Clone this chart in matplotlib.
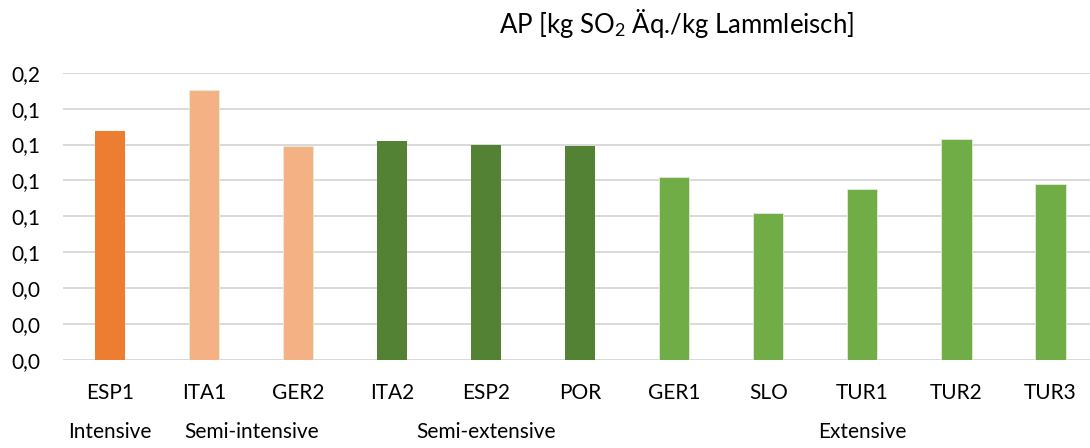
import matplotlib
matplotlib.use("Agg")
import matplotlib.pyplot as plt
from matplotlib.transforms import blended_transform_factory
import numpy as np

plt.rcParams['font.family'] = ['Lato', 'DejaVu Sans']
plt.rcParams['mathtext.fontset'] = 'custom'
plt.rcParams['mathtext.rm'] = 'Lato'
plt.rcParams['mathtext.it'] = 'Lato:italic'

# Acidification potential per farm system
categories = ["ESP1", "ITA1", "GER2", "ITA2", "ESP2", "POR",
              "GER1", "SLO", "TUR1", "TUR2", "TUR3"]
values = [0.1275, 0.1504, 0.1192, 0.1220, 0.1197, 0.1192,
          0.1019, 0.0819, 0.0954, 0.1229, 0.0980]
groups = ["Intensive", "Semi-intensive", "Semi-intensive",
          "Semi-extensive", "Semi-extensive", "Semi-extensive",
          "Extensive", "Extensive", "Extensive", "Extensive", "Extensive"]
group_colors = {
    "Intensive": "#ED7D31",
    "Semi-intensive": "#F4B183",
    "Semi-extensive": "#548235",
    "Extensive": "#70AD47",
}
y_ticks = [0.0, 0.02, 0.04, 0.06, 0.08, 0.10, 0.12, 0.14, 0.16]
y_tick_labels = ["0,0", "0,0", "0,0", "0,1", "0,1", "0,1", "0,1", "0,1", "0,2"]

W, H = 1090, 448
fig = plt.figure(figsize=(W / 100, H / 100), dpi=100)
left_px, right_px = 63, 1090
bottom_px, top_px = 360, 72.7
ax = fig.add_axes([left_px / W, 1 - bottom_px / H,
                   (right_px - left_px) / W, (bottom_px - top_px) / H])

x = np.arange(len(categories))
colors = [group_colors[g] for g in groups]
edge = ["none" if g in ("Intensive", "Semi-extensive") else "#E2EFD9" for g in groups]
ax.bar(x, values, width=0.32, color=colors, edgecolor=edge, linewidth=0.6, zorder=3)

ax.set_ylim(0, 0.16)
ax.set_xlim(-0.5, -0.5 + (right_px - left_px) / 94.05)
ax.set_yticks(y_ticks)
ax.set_yticklabels(y_tick_labels, fontsize=15, color="#000000")
ax.set_xticks(x)
ax.set_xticklabels(categories, fontsize=15, color="#000000")
for lbl in ax.get_xticklabels():
    lbl.set_va("baseline")
ax.tick_params(axis="both", length=0)
ax.tick_params(axis="y", pad=16.5)
ax.tick_params(axis="x", pad=28)
ax.yaxis.grid(True, color="#D9D9D9", linewidth=1.4, zorder=0)
ax.set_axisbelow(True)
for s in ax.spines.values():
    s.set_visible(False)

# group labels below the categories
trans = blended_transform_factory(ax.transData, fig.transFigure)
group_order = ["Intensive", "Semi-intensive", "Semi-extensive", "Extensive"]
for g in group_order:
    idx = [i for i, gg in enumerate(groups) if gg == g]
    cx = (min(idx) + max(idx)) / 2
    ax.text(cx, 1 - 438 / H, g, ha="center", va="baseline", fontsize=15,
            transform=trans, clip_on=False)

fig.text(677 / W, 1 - 33 / H, r"AP [kg SO$_2$ Äq./kg Lammleisch]",
         ha="center", va="baseline", fontsize=18.5)

fig.savefig("out.png", dpi=100, facecolor="white")
